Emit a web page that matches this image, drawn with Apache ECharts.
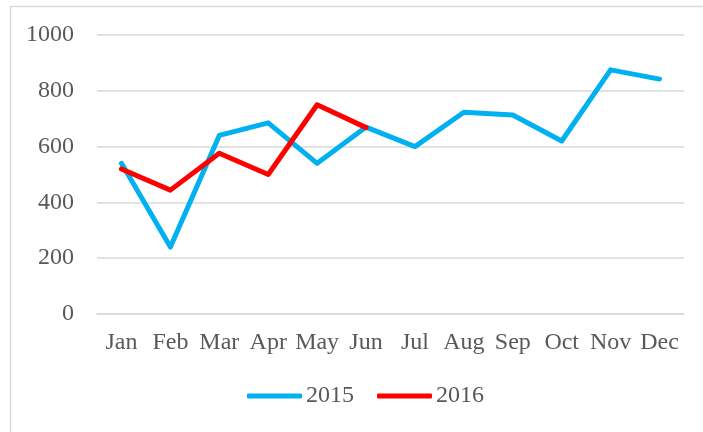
<!DOCTYPE html>
<html>
<head>
<meta charset="utf-8">
<script src="https://cdn.jsdelivr.net/npm/echarts@6/dist/echarts.min.js"></script>
<style>
  html, body { margin: 0; padding: 0; background: #fff; }
  #chart { width: 703px; height: 432px; }
</style>
</head>
<body>
<div id="chart"></div>
<script>
const months = ['Jan', 'Feb', 'Mar', 'Apr', 'May', 'Jun', 'Jul', 'Aug', 'Sep', 'Oct', 'Nov', 'Dec']
const sales2015 = [540, 240, 640, 685, 540, 670, 600, 723, 713, 620, 875, 842]
const sales2016 = [520, 444, 576, 500, 750, 668]
const yTicks = [0, 200, 400, 600, 800, 1000]

const font = '"Liberation Serif", "DejaVu Serif", serif'
const textColor = '#595959'
const fontSize = 24

const chart = echarts.init(document.getElementById('chart'))

chart.setOption({
  animation: false,
  textStyle: { fontFamily: font },
  // light chart-area frame, cut off at the right and bottom edge
  graphic: [{
    type: 'rect',
    shape: { x: 10.5, y: 6.5, width: 720, height: 450 },
    style: { fill: 'none', stroke: '#d9d9d9', lineWidth: 1.5 },
    silent: true,
    z: -1
  }],
  grid: { left: 97, right: 19, top: 35, bottom: 118 },
  legend: {
    bottom: 19,
    left: 242,
    icon: 'roundRect',
    itemWidth: 55,
    itemHeight: 5,
    itemGap: 23,
    textStyle: { color: textColor, fontSize: fontSize, fontFamily: font, padding: [0, 0, 0, -1] },
    data: ['2015', '2016']
  },
  xAxis: {
    type: 'category',
    data: months,
    boundaryGap: true,
    axisLine: { show: true, lineStyle: { color: '#d9d9d9', width: 1.5 } },
    axisTick: { show: false },
    axisLabel: { color: textColor, fontSize: fontSize, fontFamily: font, margin: 17, interval: 0 }
  },
  yAxis: {
    type: 'value',
    min: yTicks[0],
    max: yTicks[yTicks.length - 1],
    interval: 200,
    axisLine: { show: false },
    axisTick: { show: false },
    axisLabel: { color: textColor, fontSize: fontSize, fontFamily: font, margin: 23, formatter: v => String(v) },
    splitLine: { lineStyle: { color: '#d9d9d9', width: 1.5 } }
  },
  series: [
    {
      name: '2015',
      type: 'line',
      data: sales2015,
      showSymbol: false,
      symbol: 'none',
      color: '#00b0f0',
      lineStyle: { width: 5, color: '#00b0f0', cap: 'round', join: 'round' },
      z: 2
    },
    {
      name: '2016',
      type: 'line',
      data: sales2016,
      showSymbol: false,
      symbol: 'none',
      color: '#ff0000',
      lineStyle: { width: 5, color: '#ff0000', cap: 'round', join: 'round' },
      z: 3
    }
  ]
})
</script>
</body>
</html>
